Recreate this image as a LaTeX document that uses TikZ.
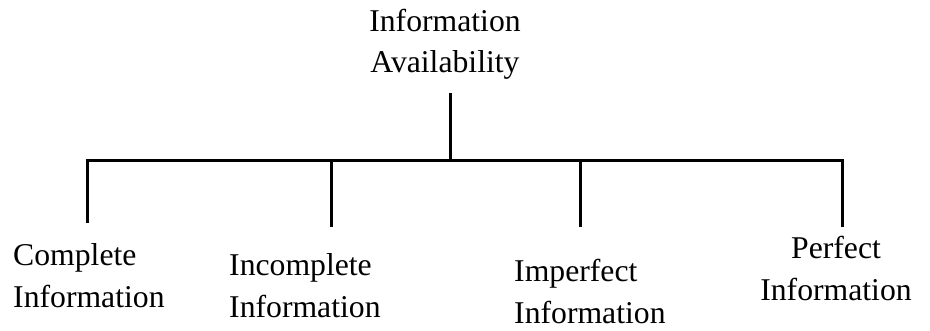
\documentclass[tikz,border=0pt]{standalone}
\usepackage{fontspec}
\setmainfont{Liberation Serif}
\begin{document}
\begin{tikzpicture}[x=1pt,y=-1pt,
  tree/.style={line width=3pt, black},
  label/.style={inner sep=0pt, font=\fontsize{31.7}{41.5}\selectfont}]
\useasboundingbox (0,0) rectangle (930,330);

% title and leaves (anchored at the baseline of the last line)
\node[label, align=center, anchor=base] (root) at (445,72.5) {Information\\Availability};
\node[label, align=left, anchor=base west] (complete) at (13,307) {Complete\\Information};
\node[label, align=left, anchor=base west] (incomplete) at (229,317) {Incomplete\\Information};
\node[label, align=left, anchor=base west] (imperfect) at (514,323) {Imperfect\\Information};
\node[label, align=center, anchor=base] (perfect) at (836,300) {Perfect\\Information};

% stem and bus end points
\coordinate (stemtop) at (450,93);
\coordinate (stembot) at (450,160);
\coordinate (b1) at (87,160);
\coordinate (b2) at (331,160);
\coordinate (b3) at (580,160);
\coordinate (b4) at (842,160);
\coordinate (e1) at (87,223);
\coordinate (e2) at (331,227);
\coordinate (e3) at (580,227);
\coordinate (e4) at (842,227);

\draw[tree] (stemtop) -- (stembot);
\draw[tree] (e1) -- (b1) -- (b4) -- (e4);
\draw[tree] (b2) -- (e2);
\draw[tree] (b3) -- (e3);
\end{tikzpicture}
\end{document}
